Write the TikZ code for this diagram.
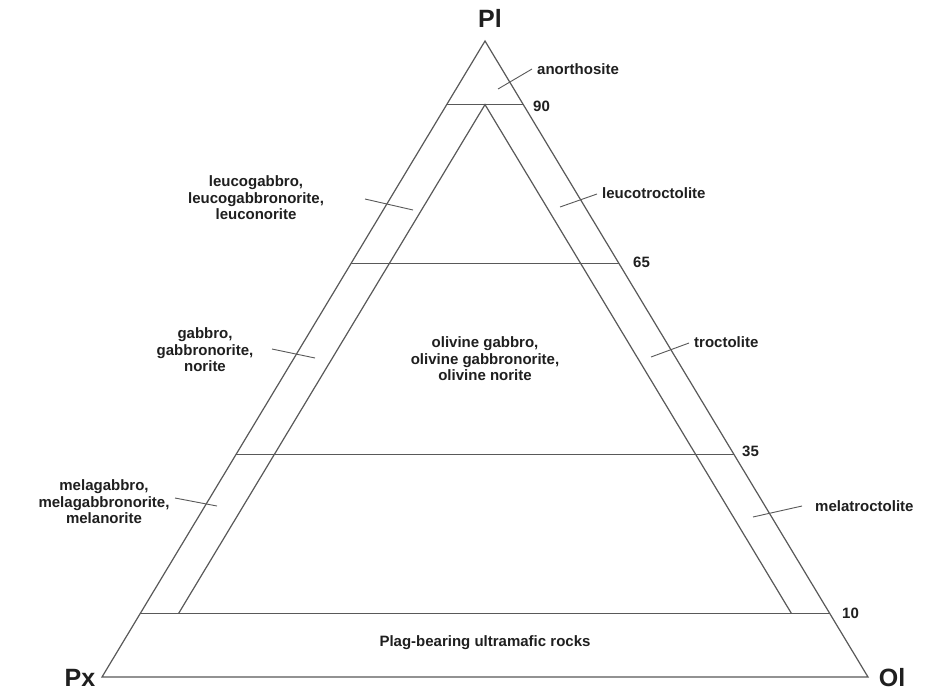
\documentclass[tikz,border=0pt]{standalone}
\usepackage{fontspec}
\setmainfont{Liberation Sans}
\begin{document}
\begin{tikzpicture}[x=1pt,y=-1pt,
  edge/.style={draw=black!65, line width=1.2pt},
  lead/.style={draw=black!65, line width=0.9pt},
  lbl/.style={font=\bfseries\fontsize{15}{16.5}\selectfont, text=black!88, inner sep=0pt, align=center},
  num/.style={font=\bfseries\fontsize{15}{16.5}\selectfont, text=black!88, inner sep=0pt, anchor=west},
  corner/.style={font=\bfseries\fontsize{25}{27}\selectfont, text=black!88, inner sep=0pt}]
\useasboundingbox (0,0) rectangle (931,691);
\fill[white] (0,0) rectangle (931,691);
% triangle corners
\coordinate (Px) at (102,677);
\coordinate (Ol) at (868,677);
\coordinate (Pl) at (485,41);
% Pl contours
\coordinate (L90) at (446.3,104.6); \coordinate (R90) at (523.7,104.6);
\coordinate (L65) at (350.9,263.6); \coordinate (R65) at (619.1,263.6);
\coordinate (L35) at (236.1,454.4); \coordinate (R35) at (733.9,454.4);
\coordinate (L10) at (140.3,613.4); \coordinate (R10) at (829.7,613.4);
% 5% olivine / 5% pyroxene lines
\coordinate (IA) at (485,104.6);
\coordinate (IL) at (178.6,613.4);
\coordinate (IR) at (791.4,613.4);
\draw[edge] (Px) -- (Pl) -- (Ol) -- cycle;
\draw[edge] (L90) -- (R90);
\draw[edge] (L65) -- (R65);
\draw[edge] (L35) -- (R35);
\draw[edge] (L10) -- (R10);
\draw[edge] (IL) -- (IA) -- (IR);
% corner labels
\node[corner] (tPl) at (490,18) {Pl};
\node[corner] (tPx) at (80,678) {Px};
\node[corner] (tOl) at (892,678) {Ol};
% numbers
\node[num] (n90) at (533,106) {90};
\node[num] (n65) at (633,262) {65};
\node[num] (n35) at (742,451) {35};
\node[num] (n10) at (842,613) {10};
% right side labels
\node[lbl, anchor=west] (anor) at (537,69) {anorthosite};
\coordinate (a1) at (498,89); \coordinate (a2) at (532,69);
\draw[lead] (a1) -- (a2);
\node[lbl, anchor=west] (ltro) at (602,193) {leucotroctolite};
\coordinate (b1) at (560,207); \coordinate (b2) at (597,194);
\draw[lead] (b1) -- (b2);
\node[lbl, anchor=west] (tro) at (694,342) {troctolite};
\coordinate (c1) at (651,357); \coordinate (c2) at (689,343);
\draw[lead] (c1) -- (c2);
\node[lbl, anchor=west] (mtro) at (815,506) {melatroctolite};
\coordinate (d1) at (753,517); \coordinate (d2) at (802,506);
\draw[lead] (d1) -- (d2);
% left side labels
\node[lbl] (leuco) at (256,198) {leucogabbro,\\leucogabbronorite,\\leuconorite};
\coordinate (e1) at (365,199); \coordinate (e2) at (413,210);
\draw[lead] (e1) -- (e2);
\node[lbl] (gab) at (205,350) {gabbro,\\gabbronorite,\\norite};
\coordinate (f1) at (272,349); \coordinate (f2) at (315,358);
\draw[lead] (f1) -- (f2);
\node[lbl] (mela) at (104,502) {melagabbro,\\melagabbronorite,\\melanorite};
\coordinate (g1) at (175,498); \coordinate (g2) at (217,506);
\draw[lead] (g1) -- (g2);
% central labels
\node[lbl] (olg) at (485,359) {olivine gabbro,\\olivine gabbronorite,\\olivine norite};
\node[lbl] (ultra) at (485,643) {Plag-bearing ultramafic rocks};
\end{tikzpicture}
\end{document}
